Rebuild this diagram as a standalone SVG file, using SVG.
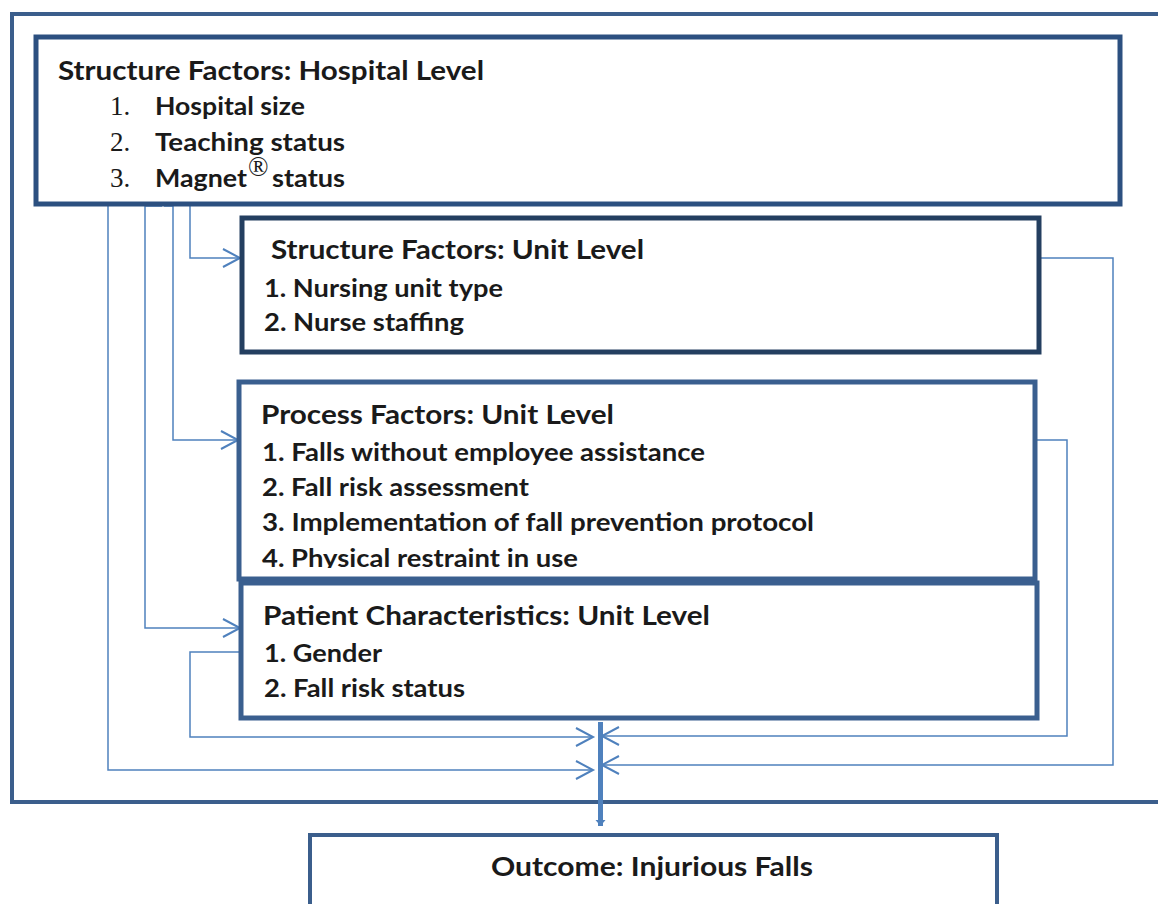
<svg xmlns="http://www.w3.org/2000/svg" width="1158" height="904" viewBox="0 0 1158 904">
<style>
.frame{fill:none;stroke:#3b5e8c;stroke-width:4}
.box{fill:#fff;stroke:#3a5f8f;stroke-width:5}
.dark{stroke:#243f60}
.hosp{stroke:#2c5080}
.t{font-family:Lato,"Open Sans",sans-serif;font-weight:bold;fill:#1a1a1a}
.h{font-size:26px}
.i{font-size:24px}
.num{font-family:"Liberation Serif","Times New Roman",serif;font-size:27px;fill:#1a1a1a}
.c{fill:none;stroke:#4f81bd;stroke-width:1.5}
</style>
<defs>
<marker id="open" markerWidth="22" markerHeight="22" refX="19" refY="11" orient="auto" markerUnits="userSpaceOnUse">
<path d="M2,2 L19,11 L2,20" fill="none" stroke="#4f81bd" stroke-width="2"/>
</marker>
<marker id="tip" markerWidth="12" markerHeight="12" refX="6" refY="6" orient="auto" markerUnits="userSpaceOnUse">
<path d="M0,1 L6,6 L0,11 z" fill="#4f81bd"/>
</marker>
<clipPath id="pclip"><rect x="239" y="382" width="796" height="186"/></clipPath>
<clipPath id="hclip"><rect x="36" y="37" width="1084" height="154"/></clipPath>
</defs>
<rect width="1158" height="904" fill="#fff"/>
<g id="frame"><rect class="frame" x="12" y="14" width="1170" height="788"/></g>

<g id="connectors">
<path class="c" d="M108,205 V770 H593" marker-end="url(#open)"/>
<path class="c" d="M162,206 H145 V628 H240" marker-end="url(#open)"/>
<path class="c" d="M164,206 H173 V440 H238" marker-end="url(#open)"/>
<path class="c" d="M190,206 V258 H240" marker-end="url(#open)"/>
<path class="c" d="M241,652 H190 V737 H593" marker-end="url(#open)"/>
<path class="c" d="M1035,440 H1067 V736 H602" marker-end="url(#open)"/>
<path class="c" d="M1040,258 H1113 V765 H602" marker-end="url(#open)"/>
<path d="M600.5,722 V826" fill="none" stroke="#4f81bd" stroke-width="5" marker-end="url(#tip)"/>
</g>

<g id="hospital">
<rect class="box hosp" x="36" y="37" width="1084" height="167"/>
<text class="t h" x="58" y="80" textLength="426" lengthAdjust="spacingAndGlyphs">Structure Factors: Hospital Level</text>
<text class="num" x="110" y="115">1.</text>
<text class="t i" x="155" y="115" textLength="150" lengthAdjust="spacingAndGlyphs">Hospital size</text>
<text class="num" x="110" y="151">2.</text>
<text class="t i" x="155" y="151" textLength="190" lengthAdjust="spacingAndGlyphs">Teaching status</text>
<g clip-path="url(#hclip)">
<text class="num" x="110" y="187">3.</text>
<text class="t i" x="155" y="187" textLength="92" lengthAdjust="spacingAndGlyphs">Magnet</text>
<text class="num" x="248" y="176" font-size="17">®</text>
<text class="t i" x="272" y="187" textLength="73" lengthAdjust="spacingAndGlyphs">status</text>
</g>
</g>

<g id="structure-unit">
<rect class="box dark" x="242" y="218" width="797" height="134"/>
<text class="t h" x="271" y="259" textLength="373" lengthAdjust="spacingAndGlyphs">Structure Factors: Unit Level</text>
<text class="t i" x="264" y="297" textLength="239" lengthAdjust="spacingAndGlyphs">1. Nursing unit type</text>
<text class="t i" x="264" y="331" textLength="200" lengthAdjust="spacingAndGlyphs">2. Nurse staffing</text>
</g>

<g id="process">
<rect class="box" x="239" y="382" width="796" height="197"/>
<text class="t h" x="261" y="424" textLength="353" lengthAdjust="spacingAndGlyphs">Process Factors: Unit Level</text>
<text class="t i" x="262" y="461" textLength="443" lengthAdjust="spacingAndGlyphs">1. Falls without employee assistance</text>
<text class="t i" x="262" y="496" textLength="267" lengthAdjust="spacingAndGlyphs">2. Fall risk assessment</text>
<text class="t i" x="262" y="531" textLength="552" lengthAdjust="spacingAndGlyphs">3. Implementation of fall prevention protocol</text>
<text class="t i" x="262" y="567" textLength="316" lengthAdjust="spacingAndGlyphs" clip-path="url(#pclip)">4. Physical restraint in use</text>
</g>

<g id="patient">
<rect class="box" x="241" y="583" width="796" height="135"/>
<text class="t h" x="263" y="625" textLength="447" lengthAdjust="spacingAndGlyphs">Patient Characteristics: Unit Level</text>
<text class="t i" x="264" y="662" textLength="118" lengthAdjust="spacingAndGlyphs">1. Gender</text>
<text class="t i" x="264" y="697" textLength="201" lengthAdjust="spacingAndGlyphs">2. Fall risk status</text>
</g>

<g id="outcome">
<rect class="frame" x="310" y="835" width="687" height="90"/>
<text class="t h" x="491" y="876" textLength="322" lengthAdjust="spacingAndGlyphs">Outcome: Injurious Falls</text>
</g>
</svg>
